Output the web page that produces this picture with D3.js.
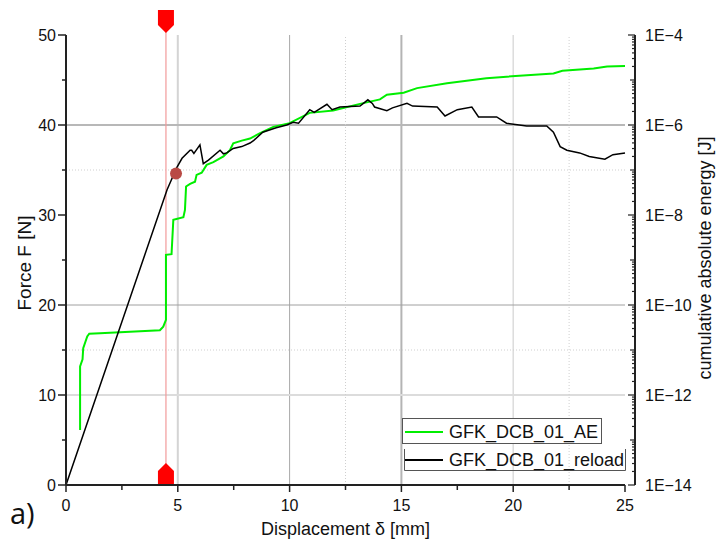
<!DOCTYPE html>
<html>
<head>
<meta charset="utf-8">
<script src="https://cdn.jsdelivr.net/npm/d3@7"></script>
<style>
  body { margin: 0; background: #fff; }
  svg text { font-family: "Liberation Sans", Arial, sans-serif; fill: #111; }
</style>
</head>
<body>
<div id="chart"></div>
<script>
"use strict";

// reload curve: displacement [mm] / force [N]
const reloadX = [0, 4.52, 4.96, 5.19, 5.55, 5.62, 5.72, 5.99, 6.14, 6.37, 6.89, 7.04, 7.19, 7.48, 7.86, 8.23, 8.4, 8.8, 9.4, 9.87, 10.16, 10.4, 10.9, 11.1, 11.67, 11.9, 12.25, 13.15, 13.5, 13.7, 13.8, 14.35, 14.6, 15.25, 15.5, 16.6, 16.95, 17.5, 18.15, 18.45, 19.26, 19.7, 20.6, 21.5, 21.8, 22.1, 22.4, 22.97, 23.4, 24.1, 24.46, 25];
const reloadF = [0, 32.8, 35.3, 36.3, 37.2, 37.2, 36.85, 37.8, 35.7, 36.1, 37.2, 36.8, 36.9, 37.4, 37.6, 38.0, 38.3, 39.2, 39.7, 40.0, 40.3, 40.2, 41.7, 41.4, 42.3, 41.7, 42.0, 42.1, 42.8, 42.4, 42.0, 41.6, 41.9, 42.4, 42.1, 42.0, 41.0, 41.7, 42.0, 40.9, 40.9, 40.2, 39.9, 39.9, 39.2, 37.6, 37.2, 36.9, 36.5, 36.2, 36.7, 36.9];

// AE curve: displacement [mm] / cumulative absolute energy [J]
const aeX = [0.63, 0.63, 0.74, 0.77, 0.95, 1.04, 1.52, 4.2, 4.35, 4.47, 4.47, 4.72, 4.8, 5.25, 5.32, 5.37, 5.55, 5.77, 5.84, 6.07, 6.29, 6.59, 7.04, 7.33, 7.48, 7.86, 8.23, 8.68, 9.27, 10.0, 10.9, 11.95, 13.15, 14.04, 14.35, 15.1, 15.7, 17.04, 18.8, 21.8, 22.2, 23.6, 24.2, 25];
const aeE = [1.66e-13, 4.3e-12, 6.2e-12, 1.1e-11, 2.0e-11, 2.3e-11, 2.35e-11, 2.75e-11, 3.3e-11, 4.7e-11, 1.3e-9, 1.35e-9, 7.8e-9, 8.9e-9, 1.3e-8, 4.3e-8, 4.9e-8, 5.5e-8, 7.8e-8, 8.7e-8, 1.3e-7, 1.5e-7, 2.0e-7, 2.75e-7, 3.9e-7, 4.5e-7, 5.0e-7, 6.6e-7, 9.1e-7, 1.1e-6, 1.86e-6, 2.1e-6, 2.95e-6, 3.7e-6, 4.7e-6, 5.2e-6, 6.6e-6, 8.5e-6, 1.1e-5, 1.4e-5, 1.6e-5, 1.8e-5, 2.0e-5, 2.05e-5];

const xTicks = [0, 5, 10, 15, 20, 25];
const yTicks = [0, 10, 20, 30, 40, 50];
const eTicks = [1e-4, 1e-6, 1e-8, 1e-10, 1e-12, 1e-14];
const eTickLabels = ["1E\u22124", "1E\u22126", "1E\u22128", "1E\u221210", "1E\u221212", "1E\u221214"];
const seriesNames = ["GFK_DCB_01_AE", "GFK_DCB_01_reload"];

const markerX = 4.47;            // crack onset marker
const onsetPoint = {x: 4.92, f: 34.6};

const W = 716, H = 548;
const margin = {top: 35, right: 91, bottom: 63, left: 66};
const width = W - margin.left - margin.right;
const height = H - margin.top - margin.bottom;

const svg = d3.select("#chart").append("svg")
  .attr("width", W).attr("height", H)
  .attr("viewBox", `0 0 ${W} ${H}`);

const x = d3.scaleLinear().domain([0, 25]).range([margin.left, margin.left + width]);
const y = d3.scaleLinear().domain([0, 50]).range([margin.top + height, margin.top]);
const yE = d3.scaleLog().domain([1e-14, 1e-4]).range([margin.top + height, margin.top]);

// grid lines
const grid = svg.append("g");
const vGrid = [
  {v: 5, c: "#d4d4d4", w: 2}, {v: 10, c: "#a8a8a8", w: 1},
  {v: 15, c: "#b4b4b4", w: 2}, {v: 20, c: "#dcdcdc", w: 1.5}
];
const hGrid = [
  {v: 40, c: "#b8b8b8", w: 2}, {v: 20, c: "#a0a0a0", w: 1}, {v: 10, c: "#dcdcdc", w: 2}
];
grid.selectAll(".vg").data(vGrid).enter().append("line")
  .attr("x1", d => x(d.v)).attr("x2", d => x(d.v))
  .attr("y1", y(0)).attr("y2", y(50))
  .attr("stroke", d => d.c).attr("stroke-width", d => d.w);
grid.selectAll(".hg").data(hGrid).enter().append("line")
  .attr("x1", x(0)).attr("x2", x(25))
  .attr("y1", d => y(d.v)).attr("y2", d => y(d.v))
  .attr("stroke", d => d.c).attr("stroke-width", d => d.w);
grid.selectAll(".vm").data([12.5, 22.5]).enter().append("line")
  .attr("x1", d => x(d)).attr("x2", d => x(d))
  .attr("y1", y(0)).attr("y2", y(50))
  .attr("stroke", "#cfcfcf").attr("stroke-dasharray", "1,2");
grid.selectAll(".hm").data([35, 15]).enter().append("line")
  .attr("x1", x(0)).attr("x2", x(25))
  .attr("y1", d => y(d)).attr("y2", d => y(d))
  .attr("stroke", "#cfcfcf").attr("stroke-dasharray", "1,2");

// marker line
svg.append("line")
  .attr("x1", x(markerX)).attr("x2", x(markerX))
  .attr("y1", y(50) - 5).attr("y2", y(0))
  .attr("stroke", "#f29a9a").attr("stroke-width", 1.2);

// curves
const lineF = d3.line().x(d => x(d[0])).y(d => y(d[1]));
const lineE = d3.line().x(d => x(d[0])).y(d => yE(d[1]));

svg.append("path")
  .datum(aeX.map((v, i) => [v, aeE[i]]))
  .attr("d", lineE).attr("fill", "none")
  .attr("stroke", "#00ee00").attr("stroke-width", 2);

svg.append("path")
  .datum(reloadX.map((v, i) => [v, reloadF[i]]))
  .attr("d", lineF).attr("fill", "none")
  .attr("stroke", "#000").attr("stroke-width", 1.5);

svg.append("circle")
  .attr("cx", x(onsetPoint.x)).attr("cy", y(onsetPoint.f)).attr("r", 6)
  .attr("fill", "#b94a45");

// marker arrows
const mx = x(markerX);
svg.append("path")
  .attr("d", `M${mx - 8},10 H${mx + 8} V25 L${mx},33 L${mx - 8},25 Z`)
  .attr("fill", "#ff0000");
svg.append("path")
  .attr("d", `M${mx - 8},486 H${mx + 8} V471 L${mx},463 L${mx - 8},471 Z`)
  .attr("fill", "#ff0000");

// left axis
const axL = svg.append("g");
axL.append("line").attr("x1", x(0)).attr("x2", x(0))
  .attr("y1", y(0)).attr("y2", y(50)).attr("stroke", "#222").attr("stroke-width", 2);
axL.selectAll(".t").data(d3.range(0, 50.1, 5)).enter().append("line")
  .attr("x1", x(0)).attr("x2", d => x(0) - (d % 10 === 0 ? 8 : 4))
  .attr("y1", d => y(d)).attr("y2", d => y(d))
  .attr("stroke", "#222").attr("stroke-width", 1.5);
axL.selectAll("text").data(yTicks).enter().append("text")
  .attr("x", x(0) - 10).attr("y", d => y(d)).attr("dy", "0.36em")
  .attr("text-anchor", "end").attr("font-size", 16).text(d => d);

// bottom axis
const axB = svg.append("g");
axB.append("line").attr("x1", x(0)).attr("x2", x(25))
  .attr("y1", y(0)).attr("y2", y(0)).attr("stroke", "#222").attr("stroke-width", 2);
axB.selectAll(".t").data(d3.range(0, 25.1, 2.5)).enter().append("line")
  .attr("x1", d => x(d)).attr("x2", d => x(d))
  .attr("y1", y(0)).attr("y2", d => y(0) + (d % 5 === 0 ? 7 : 5))
  .attr("stroke", "#222").attr("stroke-width", 1.5);
axB.selectAll("text").data(xTicks).enter().append("text")
  .attr("x", d => x(d)).attr("y", y(0) + 26)
  .attr("text-anchor", "middle").attr("font-size", 16).text(d => d);

// right log axis
const rx = x(25) + 10;
const axR = svg.append("g");
axR.append("line").attr("x1", rx).attr("x2", rx)
  .attr("y1", yE(1e-14)).attr("y2", yE(1e-4)).attr("stroke", "#222").attr("stroke-width", 2);
const minorE = [];
for (let p = -14; p < -4; p++) for (let m = 1; m <= 9; m++) minorE.push(m * Math.pow(10, p));
minorE.push(1e-4);
axR.selectAll(".t").data(minorE).enter().append("line")
  .attr("x1", rx).attr("x2", d => {
    const l = Math.log10(d);
    if (Math.abs(l - Math.round(l)) < 1e-9) return Math.round(l) % 2 === 0 ? rx - 7 : rx - 5;
    return rx - 3;
  })
  .attr("y1", d => yE(d)).attr("y2", d => yE(d))
  .attr("stroke", "#222").attr("stroke-width", 1.2);
axR.selectAll("text").data(eTicks).enter().append("text")
  .attr("x", rx + 10).attr("y", d => yE(d)).attr("dy", "0.36em")
  .attr("font-size", 16).text((d, i) => eTickLabels[i]);

// axis titles
const midY = margin.top + height / 2;
svg.append("text").attr("transform", `translate(31,${midY + 3}) rotate(-90)`)
  .attr("text-anchor", "middle").attr("font-size", 19).text("Force F [N]");
svg.append("text").attr("transform", `translate(711,${midY - 2}) rotate(-90)`)
  .attr("text-anchor", "middle").attr("font-size", 18).text("cumulative absolute energy [J]");
svg.append("text").attr("x", margin.left + width / 2).attr("y", 535)
  .attr("text-anchor", "middle").attr("font-size", 18).text("Displacement \u03b4 [mm]");
svg.append("text").attr("x", 10).attr("y", 524)
  .attr("font-size", 29).style("font-family", "'Open Sans', sans-serif").text("a)");

// legend
const leg = svg.append("g");
leg.append("rect").attr("x", 402.5).attr("y", 418.5).attr("width", 199).attr("height", 25)
  .attr("fill", "#fff").attr("stroke", "#555").attr("stroke-width", 1);
leg.append("path").attr("d", "M404.5,449 V470.5 H625.5 V449")
  .attr("fill", "none").attr("stroke", "#555").attr("stroke-width", 1);
const legColors = ["#00ee00", "#000"];
const legY = [432, 460];
seriesNames.forEach((name, i) => {
  leg.append("line").attr("x1", 405).attr("x2", 443)
    .attr("y1", legY[i]).attr("y2", legY[i])
    .attr("stroke", legColors[i]).attr("stroke-width", 2);
  leg.append("text").attr("x", 449).attr("y", legY[i]).attr("dy", "0.36em")
    .attr("font-size", 18).text(name);
});
</script>
</body>
</html>
